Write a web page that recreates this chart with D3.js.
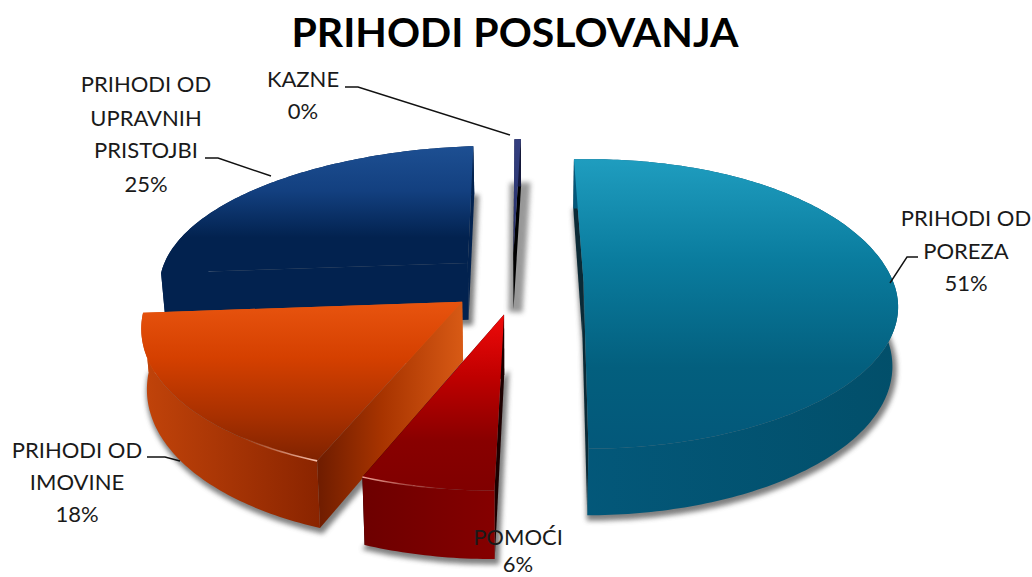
<!DOCTYPE html>
<html>
<head>
<meta charset="utf-8">
<script src="https://cdn.jsdelivr.net/npm/d3@7"></script>
<style>
  html, body { margin: 0; padding: 0; background: #fff; }
  svg { display: block; }
  text { font-family: Lato, "Open Sans", sans-serif; fill: #1a1a1a; }
</style>
</head>
<body>
<svg width="1032" height="577"></svg>
<script>
// Data
var categories = ["PRIHODI OD POREZA", "POMOĆI", "PRIHODI OD IMOVINE", "PRIHODI OD UPRAVNIH PRISTOJBI", "KAZNE"];
var values = [51, 6, 18, 25, 0.4];
var percentLabels = ["51%", "6%", "18%", "25%", "0%"];

// Colours per slice, same order as categories
var topColors = [
  ["#1f9dbf", "#0a7c9e", "#035f7e", "#03587a"],
  ["#f00a0a", "#c00000", "#880000", "#800000"],
  ["#e8540f", "#d54000", "#a83000", "#7f2200"],
  ["#1d4f92", "#134080", "#02224f", "#02224f"],
  ["#343f80", "#2f3a78", "#2a3370", "#252c66"]
];
var rimColors = [
  ["#03587a", "#024f6a"],
  ["#6d0000", "#850000"],
  ["#c2440a", "#8a2400"],
  ["#02224f", "#02224f"],
  ["#14183c", "#14183c"]
];
var wallColors = ["#0a2a36", "#1c0000", "#d85a15", "#02224f", "#000000"];

// Label layout: text lines, centre x, baselines
var labelLines = [
  ["PRIHODI OD", "POREZA", "51%"],
  ["POMOĆI", "6%"],
  ["PRIHODI OD", "IMOVINE", "18%"],
  ["PRIHODI OD", "UPRAVNIH", "PRISTOJBI", "25%"],
  ["KAZNE", "0%"]
];
var labelX = [966, 518, 77, 146, 303];
var labelY = [
  [226, 259, 291],
  [545, 572],
  [458, 490, 522],
  [92, 126, 158, 192],
  [87, 119]
];
var leaders = [
  [[918, 257], [907, 257], [890, 283]],
  [],
  [[147, 457], [165, 457], [180, 461]],
  [[205, 158], [218, 158], [271, 176]],
  [[345, 87], [358, 87], [510, 135]]
];

// Projection of the tilted pie: unit disc, perspective grows to the front
var cx = 517, cy = 283, radius = 310, tilt = 145, persp = 0.15;
var depth = 58, explode = 0.215, shrink = 0.985, backLean = 14, frontLean = 6;
var rotate = -3 * Math.PI / 180;

function project(u, v, low) {
  var s = 1 + persp * v;
  // the far half of the picture leans right, the near half left
  var lean = v < 0 ? backLean * v * v : -frontLean * v * v;
  return [
    cx + lean + u * radius * s * (low ? shrink : 1),
    cy + v * tilt * s + (low ? depth * s : 0)
  ];
}

var svg = d3.select("svg");
var defs = svg.append("defs");
var line = d3.line();

var arcs = d3.pie().sort(null).startAngle(rotate).endAngle(rotate + 2 * Math.PI)(values);

// Apex of a slice after it is pulled out along its bisector
function apexOf(a) {
  var mid = (a.startAngle + a.endAngle) / 2;
  return [Math.sin(mid) * explode, -Math.cos(mid) * explode];
}

function rimPoints(a, low, from, to) {
  var ap = apexOf(a);
  var n = Math.max(2, Math.ceil((to - from) * 60));
  return d3.range(n + 1).map(function(i) {
    var t = from + (to - from) * i / n;
    return project(ap[0] + Math.sin(t), ap[1] - Math.cos(t), low);
  });
}

// Gradients
arcs.forEach(function(a, i) {
  var g = defs.append("linearGradient").attr("id", "top" + i).attr("x1", 0).attr("y1", 0).attr("x2", 0).attr("y2", 1);
  [0, 0.35, 0.72, 1].forEach(function(o, j) {
    g.append("stop").attr("offset", o).attr("stop-color", topColors[i][j]);
  });
  var r = defs.append("linearGradient").attr("id", "rim" + i).attr("x1", 0).attr("y1", 0).attr("x2", 1).attr("y2", 0);
  r.append("stop").attr("offset", 0).attr("stop-color", rimColors[i][0]);
  r.append("stop").attr("offset", 1).attr("stop-color", rimColors[i][1]);
});

var wallGrad = defs.append("linearGradient").attr("id", "wallOrange").attr("x1", 0).attr("y1", 0).attr("x2", 1).attr("y2", 0);
wallGrad.append("stop").attr("offset", 0).attr("stop-color", "#6e1c00");
wallGrad.append("stop").attr("offset", 0.45).attr("stop-color", "#a83400");
wallGrad.append("stop").attr("offset", 1).attr("stop-color", "#d85a15");

var shine = defs.append("linearGradient").attr("id", "shine").attr("x1", 0).attr("y1", 0).attr("x2", 1).attr("y2", 0);
shine.append("stop").attr("offset", 0).attr("stop-color", "#ffb49a").attr("stop-opacity", 0);
shine.append("stop").attr("offset", 1).attr("stop-color", "#ffc8b4").attr("stop-opacity", 0.95);
var shine2 = defs.append("linearGradient").attr("id", "shine2").attr("x1", 0).attr("y1", 0).attr("x2", 1).attr("y2", 0);
shine2.append("stop").attr("offset", 0).attr("stop-color", "#ffb4a8").attr("stop-opacity", 0.9);
shine2.append("stop").attr("offset", 1).attr("stop-color", "#ffb4a8").attr("stop-opacity", 0);

defs.append("filter").attr("id", "blur")
    .attr("filterUnits", "userSpaceOnUse")
    .attr("x", 0).attr("y", 0).attr("width", 1032).attr("height", 577)
  .append("feGaussianBlur").attr("stdDeviation", 2.5);

// Back to front
var order = [4, 3, 0, 2, 1];

order.forEach(function(i) {
  var a = arcs[i];
  var ap = apexOf(a);
  var g = svg.append("g").attr("class", "slice");

  // soft shadow under the slice
  var floor = rimPoints(a, true, a.startAngle, a.endAngle).concat([project(ap[0], ap[1], true)]);
  g.append("path")
    .attr("d", line(floor) + "Z")
    .attr("transform", "translate(2,3)")
    .attr("fill", "#555")
    .attr("stroke", "#555")
    .attr("stroke-width", i == 4 ? 14 : 5)
    .attr("opacity", i == 4 ? 0.6 : 0.75)
    .attr("filter", "url(#blur)");

  // the two cut walls, the one reaching further back first
  var cuts = [a.startAngle, a.endAngle].sort(function(p, q) { return Math.cos(q) - Math.cos(p); });
  cuts.forEach(function(t) {
    var uc = ap[0] + Math.sin(t), vc = ap[1] - Math.cos(t);
    var wall = [project(ap[0], ap[1], false), project(uc, vc, false), project(uc, vc, true), project(ap[0], ap[1], true)];
    g.append("path")
      .attr("d", line(wall) + "Z")
      .attr("fill", (i == 2 && t == a.startAngle) ? "url(#wallOrange)" : wallColors[i]);
  });

  // outer rim
  var upper = rimPoints(a, false, a.startAngle, a.endAngle);
  var lower = rimPoints(a, true, a.startAngle, a.endAngle).reverse();
  g.append("path")
    .attr("d", line(upper.concat(lower)) + "Z")
    .attr("fill", "url(#rim" + i + ")");

  // top face
  var face = upper.concat([project(ap[0], ap[1], false)]);
  g.append("path")
    .attr("d", line(face) + "Z")
    .attr("fill", "url(#top" + i + ")");
});

// Thin light edge on the two front slices
var orangeArc = arcs[2];
svg.append("path")
  .attr("d", line(rimPoints(orangeArc, false, orangeArc.startAngle, orangeArc.startAngle + 0.26)))
  .attr("fill", "none").attr("stroke", "url(#shine)").attr("stroke-width", 1.6);
var redArc = arcs[1];
svg.append("path")
  .attr("d", line(rimPoints(redArc, false, redArc.endAngle - 0.24, redArc.endAngle)))
  .attr("fill", "none").attr("stroke", "url(#shine2)").attr("stroke-width", 1.4);

// Leader lines
leaders.forEach(function(p) {
  if (!p.length) return;
  svg.append("path")
    .attr("d", line(p))
    .attr("fill", "none")
    .attr("stroke", "#111")
    .attr("stroke-width", 1.4);
});

// Title
svg.append("text")
  .attr("x", 515).attr("y", 47)
  .attr("text-anchor", "middle")
  .style("font-size", "41px").style("font-weight", "700")
  .style("fill", "#000")
  .text("PRIHODI POSLOVANJA");

// Labels
labelLines.forEach(function(lines, i) {
  lines.forEach(function(s, j) {
    svg.append("text")
      .attr("x", labelX[i]).attr("y", labelY[i][j])
      .attr("text-anchor", "middle")
      .style("font-size", "22px")
      .text(s);
  });
});
</script>
</body>
</html>
